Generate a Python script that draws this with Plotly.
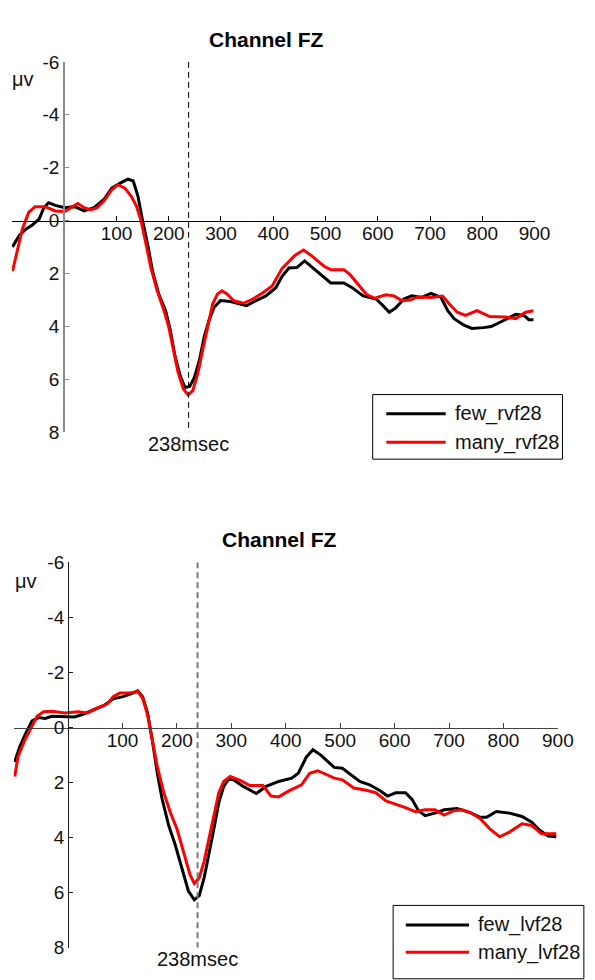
import plotly.graph_objects as go

W, H = 595, 980

# ---------------- data (ms, microvolts) ----------------
top_few_t = [-99, -86, -73, -61, -48, -39, -30, -17, 1, 20, 38, 57, 76, 91, 107, 122, 132, 141, 150, 160, 169, 181, 194, 203, 212, 222, 231, 240, 249, 259, 268, 277, 287, 299, 318, 336, 349, 367, 386, 405, 417, 430, 445, 460, 473, 492, 510, 535, 551, 572, 597, 610, 622, 634, 650, 665, 684, 702, 721, 734, 746, 765, 780, 802, 817, 839, 864, 880, 889, 898]
top_few_v = [0.99, 0.56, 0.31, 0.16, -0.06, -0.49, -0.68, -0.58, -0.49, -0.53, -0.37, -0.49, -0.80, -1.23, -1.42, -1.57, -1.50, -0.93, 0.00, 0.93, 1.91, 2.78, 3.40, 4.14, 5.12, 5.86, 6.30, 6.26, 5.93, 5.25, 4.38, 3.77, 3.27, 3.02, 3.05, 3.15, 3.21, 3.02, 2.84, 2.53, 2.10, 1.79, 1.77, 1.52, 1.73, 2.04, 2.35, 2.35, 2.53, 2.84, 2.96, 3.21, 3.46, 3.30, 2.96, 2.84, 2.90, 2.75, 2.90, 3.40, 3.70, 3.95, 4.07, 4.04, 4.00, 3.79, 3.54, 3.58, 3.74, 3.74]

top_many_t = [-99, -90, -80, -68, -56, -37, -17, 1, 13, 26, 38, 51, 63, 76, 91, 103, 116, 128, 138, 147, 157, 166, 178, 191, 200, 209, 218, 228, 237, 246, 256, 265, 274, 284, 293, 302, 312, 324, 343, 361, 380, 398, 417, 430, 442, 458, 473, 486, 498, 510, 535, 547, 563, 578, 594, 616, 631, 646, 662, 677, 702, 724, 737, 752, 768, 790, 814, 845, 864, 883, 898]
top_many_v = [1.91, 1.11, 0.31, -0.31, -0.53, -0.53, -0.37, -0.35, -0.49, -0.65, -0.49, -0.41, -0.49, -0.74, -1.17, -1.36, -1.23, -0.93, -0.56, 0.00, 0.93, 1.79, 2.65, 3.40, 4.01, 4.88, 5.74, 6.36, 6.58, 6.42, 5.74, 4.88, 4.01, 3.15, 2.78, 2.65, 2.78, 3.02, 3.12, 2.96, 2.72, 2.47, 1.80, 1.54, 1.30, 1.11, 1.32, 1.54, 1.73, 1.85, 1.85, 2.04, 2.41, 2.78, 2.93, 2.80, 2.84, 3.02, 3.00, 2.88, 2.90, 2.85, 3.15, 3.46, 3.58, 3.40, 3.62, 3.64, 3.70, 3.46, 3.40]

bot_few_t = [-98, -89, -77, -66, -54, -42, -30, -6, 12, 30, 48, 66, 83, 101, 119, 128, 137, 146, 155, 164, 173, 185, 197, 209, 221, 232, 241, 250, 259, 268, 277, 286, 295, 304, 322, 346, 364, 387, 411, 423, 438, 450, 465, 489, 504, 519, 536, 554, 572, 587, 602, 620, 632, 644, 656, 674, 691, 715, 739, 757, 769, 787, 811, 834, 852, 867, 882, 897]
bot_few_v = [1.25, 0.71, 0.18, -0.24, -0.36, -0.33, -0.41, -0.38, -0.38, -0.50, -0.65, -0.80, -1.04, -1.12, -1.25, -1.33, -1.12, -0.53, 0.48, 1.66, 2.61, 3.56, 4.27, 5.10, 5.93, 6.26, 6.11, 5.46, 4.63, 3.68, 2.73, 2.14, 1.88, 1.90, 2.14, 2.40, 2.14, 1.96, 1.84, 1.66, 1.07, 0.81, 1.01, 1.45, 1.48, 1.72, 1.96, 2.08, 2.28, 2.49, 2.37, 2.37, 2.61, 3.02, 3.20, 3.11, 2.99, 2.94, 3.09, 3.26, 3.26, 3.05, 3.11, 3.23, 3.44, 3.74, 3.94, 3.97]

bot_many_t = [-98, -92, -80, -68, -57, -45, -30, -6, 18, 36, 54, 72, 83, 95, 113, 128, 137, 146, 155, 164, 176, 188, 200, 212, 224, 232, 241, 250, 259, 268, 277, 286, 298, 316, 334, 358, 373, 387, 405, 429, 444, 459, 474, 489, 504, 525, 548, 566, 584, 602, 620, 638, 656, 674, 691, 709, 724, 739, 757, 775, 793, 811, 834, 852, 870, 882, 897]
bot_many_v = [1.78, 1.07, 0.48, 0.00, -0.41, -0.57, -0.59, -0.53, -0.57, -0.53, -0.71, -0.85, -1.12, -1.25, -1.25, -1.30, -1.07, -0.47, 0.42, 1.42, 2.37, 3.09, 3.68, 4.51, 5.34, 5.67, 5.46, 4.86, 4.03, 3.09, 2.37, 1.96, 1.78, 1.92, 2.11, 2.11, 2.49, 2.52, 2.31, 2.08, 1.66, 1.57, 1.72, 1.84, 1.90, 2.20, 2.28, 2.37, 2.67, 2.79, 2.91, 3.06, 2.99, 2.99, 3.18, 3.02, 2.99, 3.09, 3.30, 3.68, 3.97, 3.80, 3.50, 3.56, 3.86, 3.86, 3.86]

x_ticks = [100, 200, 300, 400, 500, 600, 700, 800, 900]
y_ticks = [-6, -4, -2, 0, 2, 4, 6, 8]
y_tick_text = ["-6", "-4", "-2", "0", "2", "4", "6", "8"]
marker_ms = 238
marker_label = "238msec"
title_text = "Channel FZ"
y_unit = "\u03bcv"
top_names = ["few_rvf28", "many_rvf28"]
bot_names = ["few_lvf28", "many_lvf28"]
colors = ["#000000", "#ff0000"]
X_RANGE = [-100, 900]
Y_RANGE = [8, -6]

FONT = "Liberation Sans, Arial, Helvetica, sans-serif"
TICK_SIZE = 19
TEXT_SIZE = 20
TITLE_SIZE = 21


def px(x):
    return x / W


def py(y):
    return 1 - y / H


fig = go.Figure()

panels = [
    dict(xa="x", ya="y", few=(top_few_t, top_few_v), many=(top_many_t, top_many_v), names=top_names,
         x0=12.3, x1=549.3, ytop=53.0, ybot=431.7, yaxis_color="#8c8c8c", yaxis_w=2,
         xaxis_color="#000000", dash_color="#000000", dash_w=1,
         title_xy=(274, 30), unit_xy=(24, 71), mark_y=444,
         leg_box=(383, 393, 578, 459), leg_rows=(412.7, 441.7), leg_line=(397, 458), leg_text=466),
    dict(xa="x2", ya="y2", few=(bot_few_t, bot_few_v), many=(bot_many_t, bot_many_v), names=bot_names,
         x0=14.0, x1=573.3, ytop=564.4, ybot=958.3, yaxis_color="#1a1a1a", yaxis_w=1,
         xaxis_color="#444444", dash_color="#777777", dash_w=2,
         title_xy=(287, 541), unit_xy=(27, 583), mark_y=970,
         leg_box=(404, 915, 600, 990), leg_rows=(935, 963), leg_line=(417, 482), leg_text=489),
]

shapes = []
annotations = []
layout_axes = {}

for i, p in enumerate(panels):
    for (t, v), name, col in zip([p["few"], p["many"]], p["names"], colors):
        fig.add_trace(go.Scatter(x=t, y=v, mode="lines", name=name, showlegend=False,
                                 line=dict(color=col, width=3), xaxis=p["xa"], yaxis=p["ya"]))

    ydom = [py(p["ybot"]), py(p["ytop"])]
    xdom = [px(p["x0"]), px(p["x1"])]
    y0_paper = ydom[0] + (Y_RANGE[0] - 0) / (Y_RANGE[0] - Y_RANGE[1]) * (ydom[1] - ydom[0])
    x0_paper = xdom[0] + (0 - X_RANGE[0]) / (X_RANGE[1] - X_RANGE[0]) * (xdom[1] - xdom[0])

    xkey = "xaxis" if i == 0 else "xaxis2"
    ykey = "yaxis" if i == 0 else "yaxis2"
    layout_axes[xkey] = dict(domain=xdom, range=X_RANGE, anchor="free", position=y0_paper,
                             showline=True, linecolor=p["xaxis_color"], linewidth=1,
                             ticks="inside", ticklen=5, tickwidth=1, tickcolor=p["xaxis_color"],
                             tickvals=x_ticks, showgrid=False, zeroline=False,
                             ticklabelstandoff=-4,
                             tickfont=dict(family=FONT, size=TICK_SIZE, color="#111111"))
    layout_axes[ykey] = dict(domain=ydom, range=Y_RANGE, anchor="free", position=x0_paper,
                             showline=True, linecolor=p["yaxis_color"], linewidth=p["yaxis_w"],
                             ticks="inside", ticklen=4, tickwidth=1, tickcolor=p["yaxis_color"],
                             tickvals=y_ticks, ticktext=y_tick_text, showgrid=False, zeroline=False,
                             tickfont=dict(family=FONT, size=TICK_SIZE, color="#111111"))

    shapes.append(dict(type="line", xref=p["xa"], yref=p["ya"], x0=marker_ms, x1=marker_ms,
                       y0=Y_RANGE[1], y1=Y_RANGE[0],
                       line=dict(color=p["dash_color"], width=p["dash_w"], dash="6px,4px")))
    annotations.append(dict(xref=p["xa"], yref="paper", x=marker_ms, y=py(p["mark_y"]),
                            text=marker_label, showarrow=False, xanchor="center", yanchor="middle",
                            font=dict(family=FONT, size=TEXT_SIZE, color="#111111")))
    annotations.append(dict(xref="paper", yref="paper", x=px(p["title_xy"][0]), y=py(p["title_xy"][1]),
                            text="<b>" + title_text + "</b>", showarrow=False, xanchor="center",
                            yanchor="middle", font=dict(family=FONT, size=TITLE_SIZE, color="#000000")))
    annotations.append(dict(xref="paper", yref="paper", x=px(p["unit_xy"][0]), y=py(p["unit_xy"][1]),
                            text=y_unit, showarrow=False, xanchor="center", yanchor="middle",
                            font=dict(family=FONT, size=TEXT_SIZE, color="#111111")))
    bx0, by0, bx1, by1 = p["leg_box"]
    shapes.append(dict(type="rect", xref="paper", yref="paper", x0=px(bx0), x1=px(bx1),
                       y0=py(by1), y1=py(by0), line=dict(color="#000000", width=1),
                       fillcolor="white", layer="above"))
    for row_y, name, col in zip(p["leg_rows"], p["names"], colors):
        shapes.append(dict(type="line", xref="paper", yref="paper", x0=px(p["leg_line"][0]),
                           x1=px(p["leg_line"][1]), y0=py(row_y), y1=py(row_y),
                           line=dict(color=col, width=3), layer="above"))
        annotations.append(dict(xref="paper", yref="paper", x=px(p["leg_text"]), y=py(row_y),
                                text=name, showarrow=False, xanchor="left", yanchor="middle",
                                font=dict(family=FONT, size=TEXT_SIZE, color="#111111")))

fig.update_layout(width=W, height=H, margin=dict(l=0, r=0, t=0, b=0, pad=0),
                  paper_bgcolor="white", plot_bgcolor="white", showlegend=False,
                  shapes=shapes, annotations=annotations, **layout_axes)

fig.write_html("out.html")
